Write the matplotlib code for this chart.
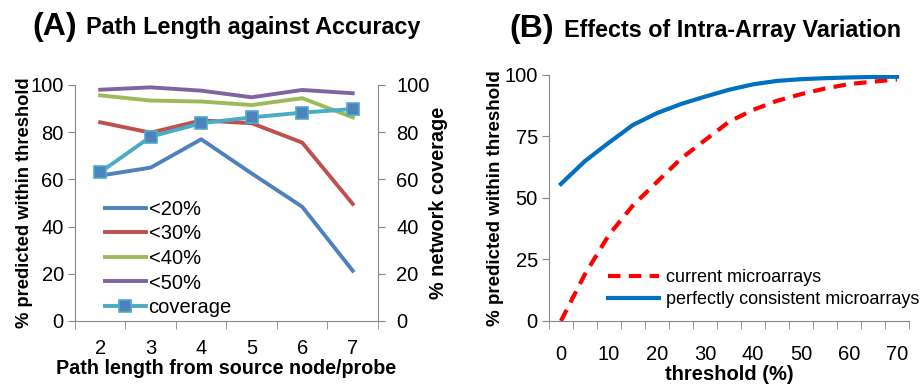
import numpy as np
import matplotlib.pyplot as plt

plt.rcParams['font.family'] = ['Liberation Sans', 'DejaVu Sans']

# panel A data
path_len = ['2', '3', '4', '5', '6', '7']
lt20 = [61.6, 65.0, 77.0, 62.5, 48.4, 21.3]
lt30 = [84.2, 79.8, 85.0, 83.8, 75.6, 49.6]
lt40 = [95.6, 93.4, 93.0, 91.5, 94.4, 86.3]
lt50 = [98.0, 99.0, 97.6, 94.8, 97.9, 96.5]
coverage = [63.0, 78.1, 83.8, 86.3, 88.3, 89.8]

# panel B data
threshold = [0, 5, 10, 15, 20, 25, 30, 35, 40, 45, 50, 55, 60, 65, 70]
current = [0, 19, 35, 47, 56.5, 66, 73.5, 81, 85.8, 89.5, 92.2, 94.5, 96.3, 97.3, 98.2]
perfect = [55.7, 65, 72.5, 79.7, 84.5, 88.2, 91.2, 94, 96.2, 97.6, 98.3, 98.7, 99, 99.2, 99.3]

GREY = '#868686'
fig = plt.figure(figsize=(9.21, 3.86), dpi=100)


def style_axis(ax):
    for s in ax.spines.values():
        s.set_color(GREY)
    ax.tick_params(direction='out', color=GREY, length=5, labelsize=14.5, pad=3)


# ---- panel A ----
ax = fig.add_axes([0.0814, 0.1684, 0.329, 0.6114])
x = np.arange(len(path_len))
ax.plot(x, lt20, color='#4F81BD', lw=2.8, label='<20%')
ax.plot(x, lt30, color='#C0504D', lw=2.8, label='<30%')
ax.plot(x, lt40, color='#9BBB59', lw=2.8, label='<40%')
ax.plot(x, lt50, color='#8064A2', lw=2.8, label='<50%')
ax.plot(x, coverage, color='#4BACC6', lw=2.8, marker='s', ms=9,
        mfc='#4F81BD', mec='#4BACC6', mew=1.2, label='coverage')
ax.set_xlim(-0.5, len(path_len) - 0.5)
ax.set_ylim(0, 100)
ax.set_yticks(range(0, 101, 20))
ax.set_xticks(x)
ax.set_xticks(np.arange(-0.5, len(path_len), 1), minor=True)
ax.set_xticklabels(path_len)
ax.spines['top'].set_visible(False)
ax.spines['right'].set_visible(False)
style_axis(ax)
ax.tick_params(axis='x', which='major', length=0, pad=13)
ax.tick_params(axis='x', which='minor', direction='out', color=GREY, length=6)
ax.set_xlabel('Path length from source node/probe', fontsize=14.2, fontweight='bold', labelpad=1)
ax.set_ylabel('% predicted within threshold', fontsize=13.2, fontweight='bold', labelpad=-2)
ax.legend(loc='lower left', bbox_to_anchor=(0.06, -0.035), frameon=False, fontsize=14.5,
          handlelength=2.0, handletextpad=0.15, labelspacing=0.28, borderaxespad=0.2)

ax2 = ax.twinx()
ax2.set_ylim(0, 100)
ax2.set_yticks(range(0, 101, 20))
for s in ['top', 'left', 'bottom']:
    ax2.spines[s].set_visible(False)
style_axis(ax2)
ax2.tick_params(pad=8)
ax2.set_ylabel('% network coverage', fontsize=14.3, fontweight='bold', labelpad=0)

fig.text(0.035, 0.93, '(A)', fontsize=23, fontweight='bold', va='center')
fig.text(0.093, 0.928, 'Path Length against Accuracy', fontsize=16.8, fontweight='bold', va='center')

# ---- panel B ----
bx = fig.add_axes([0.596, 0.1684, 0.391, 0.6373])
bx.plot(threshold, current, color='#FF0000', lw=3, ls=(0, (3, 2)), label='current microarrays')
bx.plot(threshold, perfect, color='#0070C0', lw=3, label='perfectly consistent microarrays')
bx.set_xlim(-2.5, 72.5)
bx.set_ylim(0, 100)
bx.set_yticks(range(0, 101, 25))
bx.set_xticks(range(0, 71, 10))
bx.set_xticks(np.arange(-2.5, 73, 5), minor=True)
bx.spines['top'].set_visible(False)
bx.spines['right'].set_visible(False)
style_axis(bx)
bx.tick_params(axis='x', which='major', length=0, pad=17)
bx.tick_params(axis='x', which='minor', direction='out', color=GREY, length=6)
bx.set_xlabel('threshold (%)', fontsize=14.5, fontweight='bold', labelpad=1)
bx.set_ylabel('% predicted within threshold', fontsize=13.5, fontweight='bold', labelpad=0)
bx.legend(loc='lower left', bbox_to_anchor=(0.13, 0.0), frameon=False, fontsize=13,
          handlelength=2.8, handletextpad=0.4, labelspacing=0.3, borderaxespad=0.3)

fig.text(0.553, 0.925, '(B)', fontsize=23, fontweight='bold', va='center')
fig.text(0.612, 0.922, 'Effects of Intra-Array Variation', fontsize=16.8, fontweight='bold', va='center')

fig.savefig('out.png', dpi=100)
